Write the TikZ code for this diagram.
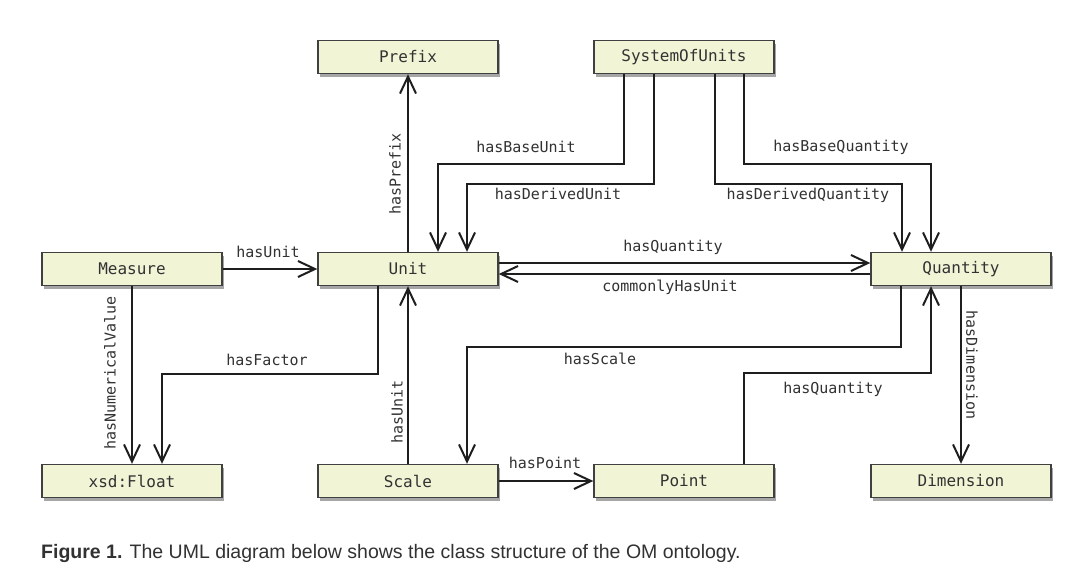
\documentclass[tikz,border=0pt]{standalone}
\usepackage{fontspec}
\newfontfamily\monofont{DejaVu Sans Mono}
\newfontfamily\capfont{Liberation Sans}
\usetikzlibrary{arrows.meta,shadows}
\definecolor{boxfill}{RGB}{242,244,214}
\definecolor{ink}{RGB}{30,30,30}
\definecolor{txt}{RGB}{50,50,50}
\begin{document}
\begin{tikzpicture}[x=1pt,y=-1pt,
  cls/.style={draw=ink!85, line width=1.4pt, fill=boxfill,
    minimum width=180pt, minimum height=33pt, inner sep=0pt,
    font=\monofont\fontsize{16}{16}\selectfont, text=txt,
    drop shadow={shadow xshift=1.5pt, shadow yshift=-3pt, fill=black, opacity=0.35}},
  rel/.style={draw=ink, line width=2pt,
    -{Straight Barb[length=17pt,width=16pt,line width=2pt]}},
  lbl/.style={font=\monofont\fontsize{15}{15}\selectfont, text=txt, inner sep=0pt}]

\useasboundingbox (0,0) rectangle (1091,584);
\fill[white] (0,0) rectangle (1091,584);

% classes
\node[cls] (prefix)  at (408,57)  {Prefix};
\node[cls] (sou)     at (684,57)  {SystemOfUnits};
\node[cls] (measure) at (132,269) {Measure};
\node[cls] (unit)    at (408,269) {Unit};
\node[cls] (qty)     at (961,269) {Quantity};
\node[cls] (float)   at (132,481) {xsd:Float};
\node[cls] (scale)   at (408,481) {Scale};
\node[cls] (point)   at (684,481) {Point};
\node[cls] (dim)     at (961,481) {Dimension};

% associations
\draw[rel] (unit.north) -- (prefix.south);
\draw[rel] ([xshift=-60pt]sou.south) -- ++(0,90) -| ([xshift=30pt]unit.north);
\draw[rel] ([xshift=-30pt]sou.south) -- ++(0,110) -| ([xshift=59pt]unit.north);
\draw[rel] ([xshift=31pt]sou.south) -- ++(0,110) -| ([xshift=-59pt]qty.north);
\draw[rel] ([xshift=60pt]sou.south) -- ++(0,90) -| ([xshift=-30pt]qty.north);
\draw[rel] (measure.east) -- (unit.west);
\draw[rel] ([yshift=6pt]unit.east) -- ([yshift=6pt]qty.west);
\draw[rel] ([yshift=-5pt]qty.west) -- ([yshift=-5pt]unit.east);
\draw[rel] (measure.south) -- (float.north);
\draw[rel] ([xshift=-30pt]unit.south) -- ++(0,88) -| ([xshift=30pt]float.north);
\draw[rel] (scale.north) -- (unit.south);
\draw[rel] ([xshift=-60pt]qty.south) -- ++(0,61) -| ([xshift=59pt]scale.north);
\draw[rel] (scale.east) -- (point.west);
\draw[rel] ([xshift=60pt]point.north) -- ++(0,-91) -| ([xshift=-30pt]qty.south);
\draw[rel] (qty.south) -- (dim.north);

% association labels
\node[lbl, rotate=90] (lprefix) at (395,174) {hasPrefix};
\node[lbl] (lbaseunit) at (526,147) {hasBaseUnit};
\node[lbl] (lderunit)  at (558,194) {hasDerivedUnit};
\node[lbl] (lbaseqty)  at (841,147) {hasBaseQuantity};
\node[lbl] (lderqty)   at (808,195) {hasDerivedQuantity};
\node[lbl] (lunit)     at (268,252) {hasUnit};
\node[lbl] (lqty)      at (673,247) {hasQuantity};
\node[lbl] (lcommon)   at (670,287) {commonlyHasUnit};
\node[lbl, rotate=90] (lnum) at (110,373) {hasNumericalValue};
\node[lbl] (lfactor)   at (267,360) {hasFactor};
\node[lbl, rotate=90] (lsunit) at (397,412) {hasUnit};
\node[lbl] (lscale)    at (600,359) {hasScale};
\node[lbl] (lpoint)    at (545,463) {hasPoint};
\node[lbl] (lpqty)     at (833,389) {hasQuantity};
\node[lbl, rotate=-90] (ldim) at (972,365) {hasDimension};

% caption
\node[anchor=west, inner sep=0pt, text=txt, font=\capfont\fontsize{19.5}{19.5}\selectfont]
  (caption) at (41,553) {\textbf{Figure 1.} The UML diagram below shows the class structure of the OM ontology.};
\end{tikzpicture}
\end{document}
